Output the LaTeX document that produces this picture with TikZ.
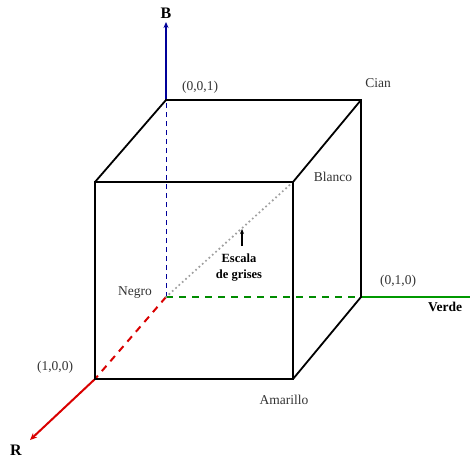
\documentclass[tikz,border=0pt]{standalone}
\usepackage{fontspec}
\setmainfont{Liberation Serif}
\usetikzlibrary{arrows.meta}
\begin{document}
\begin{tikzpicture}[x=1pt,y=-1pt,
  edge/.style={line width=1.8pt,black},
  lbl/.style={font=\fontsize{13.5}{15}\selectfont,text=black!80,inner sep=0pt},
  blbl/.style={font=\bfseries\fontsize{13.5}{15}\selectfont,inner sep=0pt},
  axlbl/.style={font=\bfseries\fontsize{16}{18}\selectfont,inner sep=0pt}]
\useasboundingbox (0,0) rectangle (470,461);
% corners
\coordinate (O) at (166,297);
\coordinate (Z) at (166,100);
\coordinate (C) at (361,100);
\coordinate (Y) at (361,297);
\coordinate (FTL) at (95,182);
\coordinate (W) at (293,182);
\coordinate (X) at (95,379);
\coordinate (A) at (293,379);
\coordinate (Btip) at (166,22);
\coordinate (Gend) at (470,297);
\coordinate (Rtip) at (30,440);
% hidden axes
\draw[blue!60!black,line width=1pt,dash pattern=on 5pt off 4pt] (O) -- (Z);
\draw[green!55!black,line width=2pt,dash pattern=on 7pt off 6pt] (O) -- (Y);
\draw[red!85!black,line width=2pt,dash pattern=on 7pt off 6pt] (O) -- (X);
\draw[gray!75,line width=2.4pt,dash pattern=on 0pt off 4.5pt,line cap=round] (O) -- (W);
% visible axes
\draw[blue!60!black,line width=2pt,-{Stealth[length=6pt,width=5pt]}] (Z) -- (Btip);
\draw[green!60!black,line width=2.2pt] (Y) -- (Gend);
\draw[red!85!black,line width=2pt,-{Stealth[length=7pt,width=6pt]}] (X) -- (Rtip);
% cube
\draw[edge] (FTL) rectangle (A);
\draw[edge] (FTL) -- (Z) -- (C) -- (Y) -- (A);
\draw[edge] (C) -- (W);
% gray-scale arrow
\coordinate (gs1) at (242,246);
\coordinate (gs2) at (242,229);
\draw[line width=1.3pt,-{Stealth[length=5pt,width=4pt]}] (gs1) -- (gs2);
% labels
\node[axlbl] (Bl) at (166,13) {B};
\node[axlbl] (Rl) at (16,450) {R};
\node[blbl] (Vl) at (445,307) {Verde};
\node[lbl] (l001) at (200,87) {(0,0,1)};
\node[lbl] (lC) at (378,83) {Cian};
\node[lbl] (lW) at (333,177) {Blanco};
\node[lbl] (l010) at (398,281) {(0,1,0)};
\node[lbl] (lN) at (135,293) {Negro};
\node[lbl] (l100) at (55,367) {(1,0,0)};
\node[lbl] (lA) at (284,400) {Amarillo};
\node[blbl,align=center,font=\bfseries\fontsize{12.5}{16}\selectfont] (gs) at (239,268) {Escala\\de grises};
\end{tikzpicture}
\end{document}
